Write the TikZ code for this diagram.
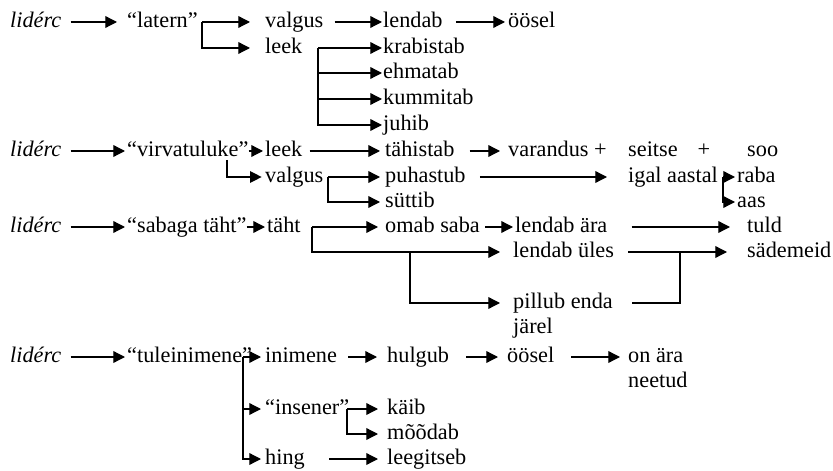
\documentclass[tikz,border=0pt]{standalone}
\usepackage{fontspec}
\setmainfont{Liberation Serif}
\usetikzlibrary{arrows.meta}
\tikzset{
  word/.style={anchor=west, inner sep=0pt, text height=10.9pt, text depth=2.2pt,
    font=\fontsize{19}{22}\selectfont},
  flow/.style={-{Triangle[length=3.5mm, width=3.5mm]}, line width=1.1pt, shorten >=0.6mm},
  link/.style={line width=1.1pt},
}
\begin{document}
\begin{tikzpicture}[x=0.3mm, y=-0.3mm]
\useasboundingbox (0,0) rectangle (833,471);

% lidérc as "latern"
\node[word] (lid1) at (10,22) {\textit{lidérc}};
\node[word] (latern) at (127,22) {“latern”};
\node[word] (valgusA) at (265,22) {valgus};
\node[word] (leekA) at (265,48) {leek};
\node[word] (lendabA) at (383,22) {lendab};
\node[word] (ooselA) at (508,22) {öösel};
\node[word] (krab) at (383,48) {krabistab};
\node[word] (ehm) at (383,73) {ehmatab};
\node[word] (kumm) at (383,99) {kummitab};
\node[word] (juhib) at (383,125) {juhib};
\coordinate (jl) at (202,22);
\coordinate (jk) at (318,48);
\draw[flow, shorten <=2.7mm, shorten >=3mm] (lid1.east) -- (latern.west);
\draw[flow, shorten >=4.5mm] (jl) -- (valgusA.west);
\draw[flow, shorten >=4.5mm] (jl) |- (leekA.west);
\draw[flow, shorten <=3.3mm, shorten >=0.3mm] (valgusA.east) -- (lendabA.west);
\draw[flow, shorten <=3.9mm, shorten >=0.9mm] (lendabA.east) -- (ooselA.west);
\draw[flow, shorten >=0.3mm] (jk) -- (krab.west);
\draw[flow, shorten >=0.3mm] (jk) |- (ehm.west);
\draw[flow, shorten >=0.3mm] (jk) |- (kumm.west);
\draw[flow, shorten >=0.3mm] (jk) |- (juhib.west);

% lidérc as "virvatuluke"
\node[word] (lid2) at (10,151) {\textit{lidérc}};
\node[word] (virv) at (127,151) {“virvatuluke”};
\node[word] (leekB) at (265,151) {leek};
\node[word] (valgusB) at (265,177) {valgus};
\node[word] (tahist) at (385,151) {tähistab};
\node[word] (puhast) at (385,177) {puhastub};
\node[word] (suttib) at (385,202) {süttib};
\node[word] (varandus) at (508,151) {varandus +};
\node[word] (seitse) at (628,151) {seitse\hspace{0.9em}+};
\node[word] (igal) at (628,177) {igal aastal};
\node[word] (soo) at (747,151) {soo};
\node[word] (raba) at (737,177) {raba};
\node[word] (aas) at (737,202) {aas};
\coordinate (jv) at (227,160);
\coordinate (jg) at (328,177);
\coordinate (ja) at (723,177);
\draw[flow, shorten <=2.7mm] (lid2.east) -- (virv.west);
\draw[flow] (virv.east) -- (leekB.west);
\draw[flow, shorten >=1mm] (jv) |- (valgusB.west);
\draw[flow, shorten <=2.1mm, shorten >=1.5mm] (leekB.east) -- (tahist.west);
\draw[flow, shorten <=4.5mm, shorten >=2.4mm] (tahist.east) -- (varandus.west);
\draw[flow, shorten >=1.5mm] (jg) -- (puhast.west);
\draw[flow, shorten >=1.5mm] (jg) |- (suttib.west);
\draw[flow, shorten <=4.2mm, shorten >=6.3mm] (puhast.east) -- (igal.west);
\draw[flow] (ja) -- (raba.west);
\draw[flow] (ja) |- (aas.west);

% lidérc as "sabaga täht"
\node[word] (lid3) at (10,227) {\textit{lidérc}};
\node[word] (sabaga) at (127,227) {“sabaga täht”};
\node[word] (taht) at (267,227) {täht};
\node[word] (omab) at (385,227) {omab saba};
\node[word] (lendara) at (515,227) {lendab ära};
\node[word] (lendules) at (513,252) {lendab üles};
\node[word] (pillub) at (513,303) {pillub enda};
\node[word] (jarel) at (513,328) {järel};
\node[word] (tuld) at (747,227) {tuld};
\node[word] (sadem) at (747,252) {sädemeid};
\coordinate (jt) at (312,227);
\coordinate (jp) at (410,252);
\coordinate (js) at (680,252);
\draw[flow, shorten <=2.7mm] (lid3.east) -- (sabaga.west);
\draw[flow] (sabaga.east) -- (taht.west);
\draw[flow, shorten >=2.1mm] (jt) -- (omab.west);
\draw[flow, shorten >=3.9mm] (jt) |- (lendules.west);
\draw[flow, shorten >=3.9mm] (jp) |- (pillub.west);
\draw[flow, shorten <=1.5mm] (omab.east) -- (lendara.west);
\draw[flow, shorten <=7.2mm, shorten >=5.1mm] (lendara.east) -- (tuld.west);
\draw[flow, shorten <=4.2mm, shorten >=6mm] (lendules.east) -- (sadem.west);
\draw[link, shorten <=5.7mm] (pillub.east) -| (js);

% lidérc as "tuleinimene"
\node[word] (lid4) at (10,357) {\textit{lidérc}};
\node[word] (tulein) at (127,357) {“tuleinimene”};
\node[word] (inimene) at (265,357) {inimene};
\node[word] (insener) at (265,409) {“insener”};
\node[word] (hing) at (265,459) {hing};
\node[word] (hulgub) at (387,357) {hulgub};
\node[word] (kaib) at (387,409) {käib};
\node[word] (moodab) at (387,434) {mõõdab};
\node[word] (leeg) at (387,459) {leegitseb};
\node[word] (ooselB) at (507,357) {öösel};
\node[word] (onara) at (628,357) {on ära};
\node[word] (neetud) at (628,382) {neetud};
\coordinate (jn) at (243,357);
\coordinate (ji) at (347,409);
\draw[flow, shorten <=2.7mm] (lid4.east) -- (tulein.west);
\draw[flow, shorten >=1.2mm] (jn) -- (inimene.west);
\draw[flow, shorten >=1.2mm] (jn) |- (insener.west);
\draw[flow, shorten >=1.2mm] (jn) |- (hing.west);
\draw[flow, shorten <=3.3mm, shorten >=3mm] (inimene.east) -- (hulgub.west);
\draw[flow, shorten <=5.1mm, shorten >=2.7mm] (hulgub.east) -- (ooselB.west);
\draw[flow, shorten <=5.1mm, shorten >=2.4mm] (ooselB.east) -- (onara.west);
\draw[flow, shorten >=2.7mm] (ji) -- (kaib.west);
\draw[flow, shorten >=2.7mm] (ji) |- (moodab.west);
\draw[flow, shorten <=7.2mm, shorten >=2.7mm] (hing.east) -- (leeg.west);

\end{tikzpicture}
\end{document}
